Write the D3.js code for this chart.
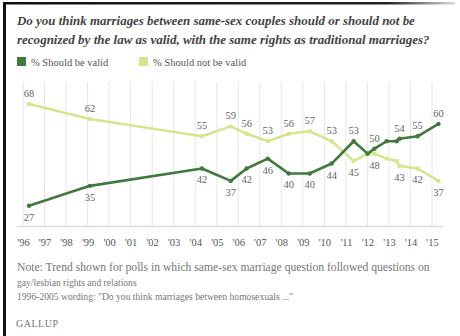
<!DOCTYPE html>
<html><head><meta charset="utf-8">
<script src="https://cdn.jsdelivr.net/npm/d3@7"></script>
<style>
html,body{margin:0;padding:0;background:#fff;}
svg{display:block;}
</style></head>
<body>
<svg id="c" width="460" height="336"></svg>
<script>
// ---- data ----
const titleLines = [
  "Do you think marriages between same-sex couples should or should not be",
  "recognized by the law as valid, with the same rights as traditional marriages?"
];
const seriesNames = ["% Should be valid", "% Should not be valid"];
const pollDates = [1996.28, 1999.11, 2004.31, 2005.65, 2006.39, 2007.37, 2008.34, 2009.32, 2010.34, 2011.36, 2012.01, 2012.33, 2012.89, 2013.36, 2013.49, 2014.33, 2015.30];
const shouldBeValid    = [27, 35, 42, 37, 42, 46, 40, 40, 44, 53, 48, 50, 53, 53, 54, 55, 60];
const shouldNotBeValid = [68, 62, 55, 59, 56, 53, 56, 57, 53, 45, 48, 48, 46, 45, 43, 42, 37];
// which points carry a value label, and on which side of the line
const validLabels    = [[0,"below"],[1,"below"],[2,"below"],[3,"below"],[4,"below"],[5,"below"],[6,"below"],[7,"below"],[8,"below"],[9,"above"],[11,"above"],[14,"above"],[15,"above"],[16,"above"]];
const notValidLabels = [[0,"above"],[1,"above"],[2,"above"],[3,"above"],[4,"above"],[5,"above"],[6,"above"],[7,"above"],[8,"above"],[9,"below"],[11,"below"],[14,"below"],[15,"below"],[16,"below"]];
const years = d3.range(1996, 2016);
const tickLabels = years.map(y => "'" + String(y).slice(2));
const noteLines = [
  "Note: Trend shown for polls in which same-sex marriage question followed questions on",
  "gay/lesbian rights and relations",
  "1996-2005 wording: \"Do you think marriages between homosexuals ...\""
];
const sourceText = "GALLUP";

// ---- drawing ----
const DARK = "#3f7a3c", LIGHT = "#d5e58e";
const serif = "'Liberation Serif','DejaVu Serif',serif";
const svg = d3.select("#c");

// frame (cropped screenshot border)
svg.append("rect").attr("x",3).attr("y",2).attr("width",3).attr("height",334).attr("fill","#111");
const fg = svg.append("defs").append("linearGradient").attr("id","fade");
fg.append("stop").attr("offset","0%").attr("stop-color","#111");
fg.append("stop").attr("offset","85%").attr("stop-color","#222");
fg.append("stop").attr("offset","100%").attr("stop-color","#ddd");
svg.append("rect").attr("x",3).attr("y",2).attr("width",452).attr("height",2.5).attr("fill","url(#fade)");

// title
const tt = svg.append("g");
titleLines.forEach((t,i)=>{
  const el = tt.append("text").attr("x",17).attr("y",25+i*18.5)
    .attr("font-family",serif).attr("font-style","italic").attr("font-weight","bold")
    .attr("font-size",13.5).attr("fill","#444").text(t);
  const target = i===0 ? 398 : 413;
  const w = el.node().getComputedTextLength();
  el.attr("font-size", 13.5*target/w);
});

// legend
const lg = svg.append("g").attr("font-family",serif).attr("font-size",10.5).attr("fill","#555");
[[17,DARK,seriesNames[0]],[139,LIGHT,seriesNames[1]]].forEach(([x,c,t])=>{
  lg.append("rect").attr("x",x).attr("y",57).attr("width",9).attr("height",9).attr("fill",c);
  lg.append("text").attr("x",x+14).attr("y",65.5).text(t);
});

// scales
const x = d3.scaleLinear().domain([1996, 2015]).range([23, 432]);
const y = d3.scaleLinear().domain([18.8, 76.9]).range([226, 82]);

// grid
const grid = svg.append("g");
grid.selectAll("line").data(years).join("line")
  .attr("x1",d=>x(d)).attr("x2",d=>x(d)).attr("y1",82).attr("y2",226)
  .attr("stroke","#e6e6e6").attr("stroke-width",1);

// x axis
const xAxis = d3.axisBottom(x).tickValues(years).tickFormat((d,i)=>tickLabels[i]).tickSize(0).tickPadding(13);
const ax = svg.append("g").attr("transform","translate(0,226)").call(xAxis);
ax.select(".domain").attr("d","M17,0.5H443").attr("stroke","#dcdcdc").attr("stroke-width",1.5);
ax.selectAll("text").attr("font-family",serif).attr("font-size",10.5).attr("fill","#555");

// lines
const pts = arr => arr.map((v,i)=>[pollDates[i], v]);
const line = d3.line().x(d=>x(d[0])).y(d=>y(d[1]));
function drawSeries(vals, color, labels){
  const g = svg.append("g");
  g.append("path").datum(pts(vals)).attr("d",line).attr("fill","none")
    .attr("stroke",color).attr("stroke-width",2.6).attr("stroke-linejoin","round");
  g.selectAll("circle").data(pts(vals)).join("circle")
    .attr("cx",d=>x(d[0])).attr("cy",d=>y(d[1])).attr("r",2.2).attr("fill",color);
  g.selectAll("text").data(labels).join("text")
    .attr("x",d=>x(pollDates[d[0]]))
    .attr("y",d=>y(vals[d[0]]) + (d[1]==="above" ? -7 : 15))
    .attr("text-anchor","middle").attr("font-family",serif).attr("font-size",10.5).attr("fill","#666")
    .text(d=>vals[d[0]]);
}
drawSeries(shouldNotBeValid, LIGHT, notValidLabels);
drawSeries(shouldBeValid, DARK, validLabels);

// notes
const ng = svg.append("g").attr("font-family",serif).attr("font-size",9.6).attr("fill","#777");
noteLines.forEach((t,i)=>{
  const el = ng.append("text").attr("x",17).attr("y",271+i*14.5).text(t);
  if(i===0){ const w=el.node().getComputedTextLength(); el.attr("font-size",9.6*413/w); }
});
svg.append("text").attr("x",16).attr("y",327).attr("font-family",serif).attr("font-size",10)
  .attr("letter-spacing",0.5).attr("fill","#777").text(sourceText);
</script>
</body></html>
